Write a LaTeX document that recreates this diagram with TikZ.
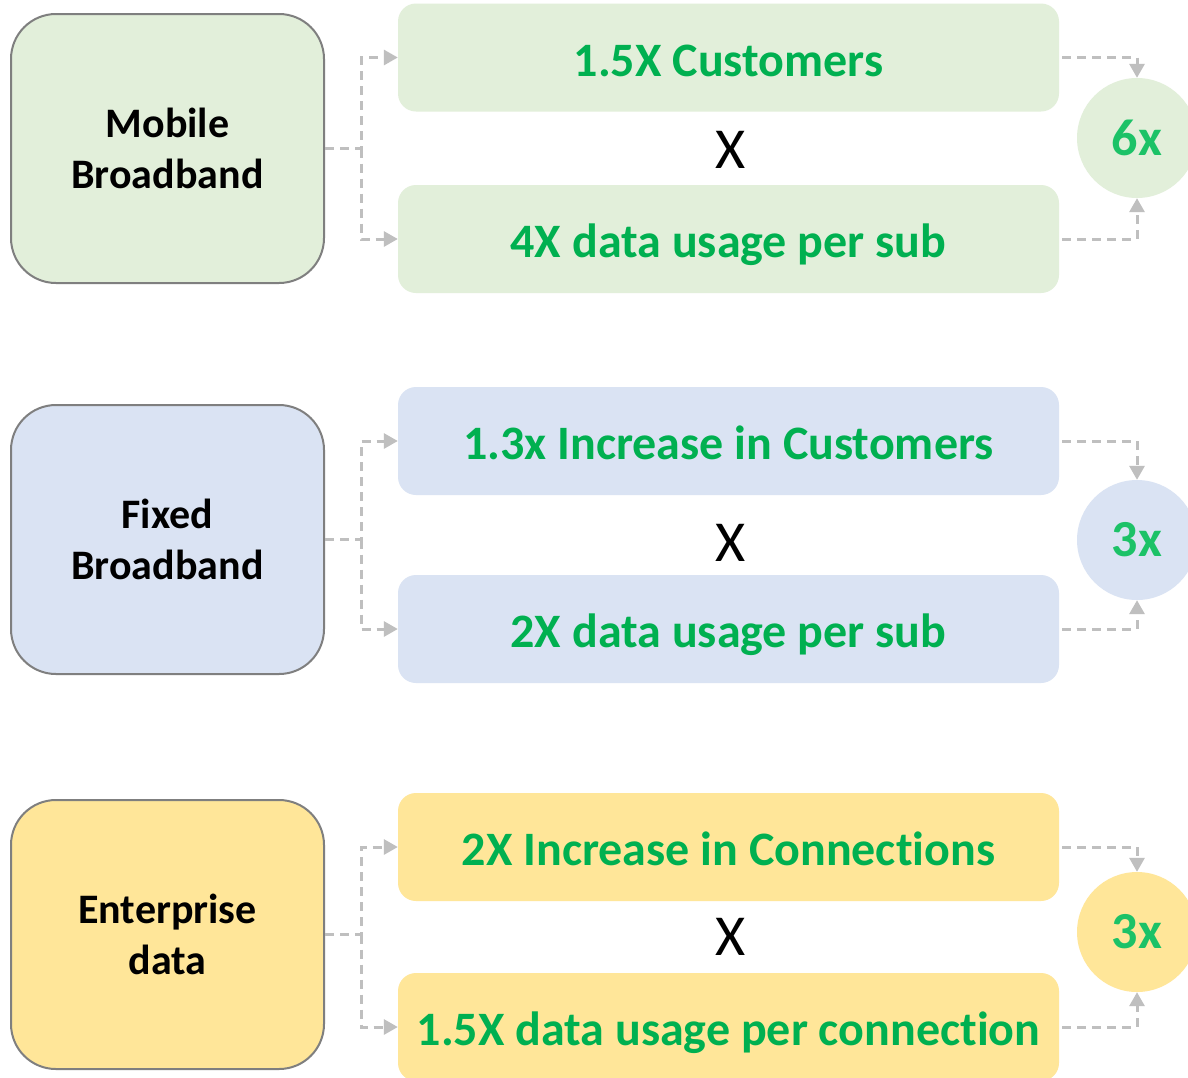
\documentclass[tikz,border=0pt]{standalone}
\usepackage{fontspec}
\setmainfont{Carlito}[Ligatures=NoCommon]
\usetikzlibrary{arrows.meta,calc}
\definecolor{gfill}{HTML}{E2EFDA}
\definecolor{bfill}{HTML}{DAE3F3}
\definecolor{yfill}{HTML}{FFE699}
\definecolor{gtext}{HTML}{00B050}
\definecolor{ctext}{HTML}{1CC267}
\definecolor{dashgray}{HTML}{BFBFBF}
\definecolor{edgegray}{HTML}{7F7F7F}
\tikzset{
  leftbox/.style={draw=edgegray, line width=2pt, rounded corners=45pt, minimum width=313pt, minimum height=269pt, align=center, font=\fontsize{42}{51}\selectfont\bfseries, text=black, inner sep=0pt},
  factbox/.style={rounded corners=18pt, minimum width=661pt, minimum height=108pt, font=\fontsize{48}{56}\selectfont\bfseries, text=gtext, inner sep=0pt, text height=40pt, text depth=3pt},
  resultcirc/.style={circle, minimum size=120pt, inner sep=0pt, font=\fontsize{52}{60}\selectfont\bfseries, text=ctext},
  timeslabel/.style={font=\fontsize{58}{64}\selectfont, text=black, inner sep=0pt},
  conn/.style={draw=dashgray, line width=3pt, dash pattern=on 9pt off 6pt, -{Triangle[length=14pt,width=15pt]}},
}
\begin{document}
\begin{tikzpicture}[x=1pt,y=-1pt]
\useasboundingbox (0,0) rectangle (1188,1077);
\clip (0,0) rectangle (1188,1077);
\fill[white] (0,0) rectangle (1188,1077);

% Group 1
\node[leftbox, fill=gfill] (lb1) at (167.5,148.5) {Mobile\\Broadband};
\node[factbox, fill=gfill] (t1) at (728.5,57.5) {1.5X Customers};
\node[factbox, fill=gfill] (b1) at (728.5,239) {4X data usage per sub};
\node[resultcirc, fill=gfill] (c1) at (1137,138) {6x};
\node[timeslabel] (x1) at (731,150) {X};

% Group 2
\node[leftbox, fill=bfill] (lb2) at (167.5,539.5) {Fixed\\Broadband};
\node[factbox, fill=bfill] (t2) at (728.5,441) {1.3x Increase in Customers};
\node[factbox, fill=bfill] (b2) at (728.5,629) {2X data usage per sub};
\node[resultcirc, fill=bfill] (c2) at (1137,540) {3x};
\node[timeslabel] (x2) at (731,543) {X};

% Group 3
\node[leftbox, fill=yfill] (lb3) at (167.5,934.5) {Enterprise\\data};
\node[factbox, fill=yfill] (t3) at (728.5,847) {2X Increase in Connections};
\node[factbox, fill=yfill] (b3) at (728.5,1027) {1.5X data usage per connection};
\node[resultcirc, fill=yfill] (c3) at (1137,932) {3x};
\node[timeslabel] (x3) at (731,937) {X};

% Connectors
\foreach \g in {1,2,3}{
  \coordinate (s\g) at ($(lb\g.east)+(36,0)$);
  \draw[conn] (lb\g.east) -- (s\g) |- (t\g.west);
  \draw[conn] (s\g) |- (b\g.west);
  \draw[conn] ($(t\g.east)+(3,0)$) -| (c\g.north);
  \draw[conn] ($(b\g.east)+(3,0)$) -| (c\g.south);
}
\end{tikzpicture}
\end{document}
